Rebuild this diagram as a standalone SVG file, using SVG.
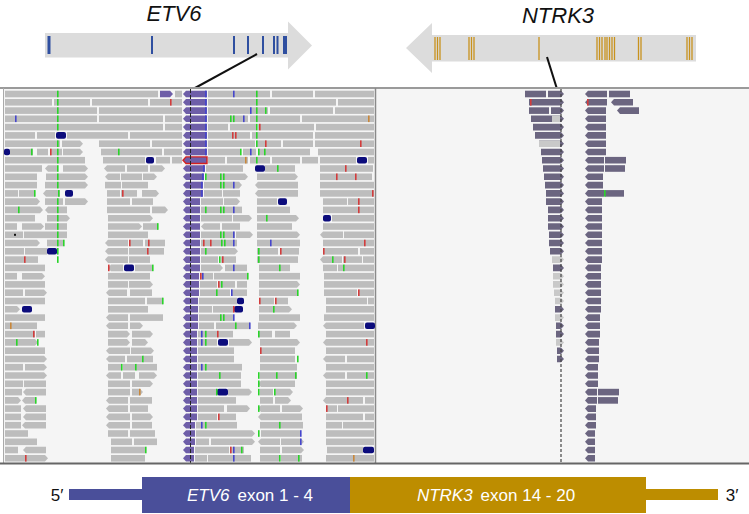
<svg xmlns="http://www.w3.org/2000/svg" width="749" height="514" viewBox="0 0 749 514">
<style>
.row rect,.row path{fill:#bdbdbd}
.row rect{height:6.6px}
.row .p{fill:#6e5ea8}
.row .n{fill:#0c0c7c}
.row .g,.row .rd,.row .b,.row .o{width:1.6px}
.row .g{fill:#2ad42a}
.row .rd{fill:#d23c3c}
.row .b{fill:#4646cc}
.row .o{fill:#c8873a}
.row .k{fill:#6b6580}
.row .l{fill:#c9c9c9}
.row .dot{fill:#111;height:2px;width:2px}
.gene{fill:#dcdcdc}
.ex1{stroke:#2f4fa0;stroke-width:2}
.ex2{stroke:#c8921e;stroke-width:1.3}
.lbl{font-family:"Liberation Sans",Arial,sans-serif;font-style:italic;font-size:22px;fill:#111}
.ft{font-family:"Liberation Sans",Arial,sans-serif;font-size:17px}
</style>
<defs>
<path id="pA" fill="#6e5ea8" d="M183 3.3L186 0H207V6.6H186Z"/>
</defs>
<rect width="749" height="514" fill="#fff"/>
<g id="etv6-gene">
<text class="lbl" x="174" y="20.5" text-anchor="middle">ETV6</text>
<path class="gene" d="M45 33H288V21.5L312 45.5L288 69.5V57.5H45Z"/>
<g class="ex1">
<path d="M49 36V54" stroke-width="3"/>
<path d="M152 36V54M234 36V54M248 36V54M263 36V54M274 36V54M277.5 36V54"/>
<path d="M285 36V54" stroke-width="4"/>
</g>
</g>
<g id="ntrk3-gene">
<text class="lbl" x="558" y="22.5" text-anchor="middle">NTRK3</text>
<path class="gene" d="M696 35H432V23L406 48L432 73V61.5H696Z"/>
<path class="ex2" d="M435 37V60M437.5 37V60M440 37V60M469 37V60M471.5 37V60M474 37V60M539 37V60M597 37V60M599.5 37V60M602 37V60M605 37V60M607 37V60M609.5 37V60M612 37V60M614.5 37V60M638.5 37V60M641 37V60M687 37V60M689.5 37V60M692 37V60"/>
</g>
<g id="connectors" stroke="#111" stroke-width="2">
<line x1="257" y1="54" x2="195" y2="88"/>
<line x1="547" y1="57" x2="557" y2="89"/>
</g>
<g id="alignment">
<rect x="4" y="89" width="371" height="374" fill="#f5f5f5"/>
<rect x="376" y="89" width="373" height="374" fill="#f5f5f5"/>
<line x1="0" y1="88" x2="749" y2="88" stroke="#9a9a9a" stroke-width="2"/>
<line x1="3.5" y1="88" x2="3.5" y2="463" stroke="#aaa" stroke-width="1"/>
<line x1="375.5" y1="88" x2="375.5" y2="463" stroke="#8a8a8a" stroke-width="1.5"/>

<g class="row" transform="translate(0,90.7)"><rect x="5" width="153"/><path class="p" d="M160 0H170L173 3.3L170 6.6H160Z"/><rect x="175" width="7"/><use href="#pA"/><rect class="b" x="205"/><rect x="208" width="62"/><rect x="272" width="41"/><rect x="315" width="59"/><rect class="g" x="57"/><rect class="b" x="233"/><rect class="g" x="256"/><rect class="k" x="525" width="21"/><path class="k" d="M548 0H561L564 3.3L561 6.6H548Z"/><path class="k" d="M585 3.3L588 0H607V6.6H588Z"/><rect class="k" x="609" width="21"/></g>
<g class="row" transform="translate(0,99)"><rect x="5" width="47"/><rect x="54" width="36"/><rect x="92" width="56"/><rect x="150" width="32"/><use href="#pA"/><rect class="b" x="205"/><rect x="208" width="128"/><rect x="338" width="36"/><rect class="g" x="57"/><rect class="rd" x="170"/><rect class="g" x="256"/><path class="k" d="M529 0H561L564 3.3L561 6.6H529Z"/><rect class="rd" x="530"/><path class="k" d="M585 3.3L588 0H607V6.6H588Z"/><rect class="rd" x="587"/><path class="k" d="M611 3.3L614 0H633V6.6H614Z"/></g>
<g class="row" transform="translate(0,107.3)"><rect x="5" width="92"/><rect x="99" width="83"/><use href="#pA"/><rect class="b" x="205"/><rect x="208" width="60"/><rect x="270" width="63"/><rect x="335" width="39"/><rect class="g" x="57"/><rect class="b" x="250"/><rect class="g" x="256"/><rect class="g" x="265"/><rect class="k" x="529" width="20"/><path class="k" d="M551 0H561L564 3.3L561 6.6H551Z"/><path class="k" d="M585 3.3L588 0H606V6.6H588Z"/><path class="k" d="M617 3.3L620 0H639V6.6H620Z"/></g>
<g class="row" transform="translate(0,115.5)"><rect x="5" width="92"/><rect x="99" width="64"/><rect x="165" width="17"/><use href="#pA"/><rect class="b" x="205"/><rect x="208" width="40"/><rect x="250" width="50"/><rect x="302" width="72"/><rect class="b" x="15"/><rect class="g" x="57"/><rect class="g" x="230"/><rect class="g" x="233"/><rect class="b" x="243"/><rect class="g" x="256"/><rect class="o" x="368"/><path class="k" d="M531 0H561L564 3.3L561 6.6H531Z"/><rect class="l" x="552" width="8"/><path class="k" d="M585 3.3L588 0H606V6.6H588Z"/></g>
<g class="row" transform="translate(0,123.8)"><rect x="5" width="158"/><rect x="165" width="17"/><use href="#pA"/><rect class="b" x="205"/><rect x="208" width="20"/><rect x="230" width="26"/><rect x="258" width="56"/><rect x="316" width="58"/><rect class="g" x="57"/><rect class="g" x="256"/><rect class="rd" x="259"/><path class="k" d="M533 0H561L564 3.3L561 6.6H533Z"/><path class="k" d="M585 3.3L588 0H606V6.6H588Z"/></g>
<g class="row" transform="translate(0,132.1)"><rect x="5" width="30"/><rect x="37" width="18"/><rect class="n" x="56" width="10" rx="2"/><rect x="67" width="61"/><rect x="130" width="52"/><use href="#pA"/><rect class="b" x="205"/><rect x="208" width="42"/><rect x="252" width="61"/><rect x="315" width="59"/><rect class="rd" x="232"/><rect class="rd" x="235"/><rect class="g" x="256"/><path class="k" d="M535 0H561L564 3.3L561 6.6H535Z"/><path class="k" d="M585 3.3L588 0H606V6.6H588Z"/></g>
<g class="row" transform="translate(0,140.4)"><rect x="5" width="55"/><path d="M62 0H80L83 3.3L80 6.6H62Z"/><rect x="99" width="51"/><rect x="152" width="30"/><use href="#pA"/><rect class="b" x="205"/><rect x="208" width="47"/><rect x="257" width="24"/><rect x="283" width="30"/><rect x="315" width="59"/><rect class="g" x="57"/><rect class="g" x="256"/><rect class="rd" x="265"/><rect class="rd" x="360"/><path class="k" d="M539 0H561L564 3.3L561 6.6H539Z"/><rect class="l" x="539" width="21"/><path class="k" d="M585 3.3L588 0H606V6.6H588Z"/></g>
<g class="row" transform="translate(0,148.7)"><rect class="n" x="4" width="6" rx="2"/><rect x="10" width="23"/><rect x="37" width="11"/><rect x="50" width="12"/><path d="M63 0H80L83 3.3L80 6.6H63Z"/><rect x="101" width="61"/><rect x="164" width="18"/><use href="#pA"/><rect class="b" x="205"/><rect x="208" width="32"/><rect x="243" width="13"/><rect x="258" width="52"/><rect x="318" width="56"/><rect class="g" x="31"/><rect class="rd" x="50"/><rect class="g" x="57"/><rect class="g" x="118"/><rect class="g" x="240"/><rect class="b" x="250"/><rect class="g" x="258"/><rect class="g" x="264"/><path class="k" d="M541 0H561L564 3.3L561 6.6H541Z"/><path class="k" d="M585 3.3L588 0H606V6.6H588Z"/></g>
<g class="row" transform="translate(0,156.9)"><rect x="5" width="80"/><rect x="103" width="42"/><rect class="n" x="146" width="8" rx="2"/><rect x="156" width="14"/><rect x="172" width="10"/><path class="p" d="M183 3.3L186 0H207V6.6H186Z" style="stroke:#d42020;stroke-width:1.4"/><rect x="208" width="17"/><rect x="227" width="21"/><rect x="250" width="20"/><rect x="272" width="28"/><rect x="302" width="16"/><rect x="320" width="36"/><rect class="n" x="357" width="10" rx="2"/><rect x="368" width="6"/><rect class="g" x="57"/><rect class="o" x="245"/><rect class="g" x="256"/><path class="k" d="M542 0H561L564 3.3L561 6.6H542Z"/><path class="k" d="M585 3.3L588 0H604V6.6H588Z"/><rect class="k" x="605" width="21"/></g>
<g class="row" transform="translate(0,165.2)"><rect x="5" width="37"/><path d="M45 3.3L48 0H57V6.6H48Z"/><path d="M63 0H85L88 3.3L85 6.6H63Z"/><path d="M104 3.3L107 0H125V6.6H107Z"/><rect x="127" width="21"/><path d="M150 0H162L165 3.3L162 6.6H150Z"/><path class="p" d="M183 3.3L186 0H205V6.6H186Z"/><rect class="b" x="203"/><rect x="206" width="37"/><rect class="n" x="255" width="10" rx="2"/><rect x="265" width="30"/><rect x="320" width="53"/><rect class="g" x="57"/><rect class="g" x="277"/><rect class="rd" x="345"/><path class="k" d="M543 0H561L564 3.3L561 6.6H543Z"/><path class="k" d="M585 3.3L588 0H604V6.6H588Z"/><rect class="k" x="605" width="20"/></g>
<g class="row" transform="translate(0,173.5)"><rect x="5" width="32"/><rect x="46" width="14"/><path d="M60 0H85L88 3.3L85 6.6H60Z"/><path d="M105 3.3L108 0H120V6.6H108Z"/><rect x="121" width="21"/><path d="M143 0H154L157 3.3L154 6.6H143Z"/><path class="p" d="M183 3.3L186 0H204V6.6H186Z"/><rect class="b" x="202"/><rect x="205" width="20"/><path d="M225 0H245L248 3.3L245 6.6H225Z"/><path d="M257 0H295L298 3.3L295 6.6H257Z"/><rect x="320" width="52"/><rect class="g" x="57"/><rect class="g" x="205"/><rect class="g" x="220"/><rect class="g" x="223"/><rect class="rd" x="336"/><rect class="rd" x="355"/><path class="k" d="M544 0H561L564 3.3L561 6.6H544Z"/><path class="k" d="M585 3.3L588 0H603V6.6H588Z"/></g>
<g class="row" transform="translate(0,181.8)"><rect x="5" width="32"/><rect x="45" width="15"/><path d="M60 0H85L88 3.3L85 6.6H60Z"/><rect x="105" width="16"/><rect x="122" width="26"/><path class="p" d="M183 3.3L186 0H203V6.6H186Z"/><rect class="b" x="201"/><rect x="204" width="19"/><path d="M223 0H239L242 3.3L239 6.6H223Z"/><path d="M255 3.3L258 0H298V6.6H258Z"/><rect x="320" width="54"/><rect class="g" x="57"/><rect class="g" x="220"/><rect class="g" x="223"/><rect class="b" x="233"/><path class="k" d="M545 0H561L564 3.3L561 6.6H545Z"/><path class="k" d="M585 3.3L588 0H603V6.6H588Z"/></g>
<g class="row" transform="translate(0,190.1)"><rect x="5" width="13"/><rect x="19" width="16"/><path d="M43 3.3L46 0H60V6.6H46Z"/><rect class="n" x="65" width="8" rx="2"/><rect x="107" width="13"/><rect x="121" width="16"/><path d="M142 0H156L159 3.3L156 6.6H142Z"/><path class="p" d="M183 3.3L186 0H203V6.6H186Z"/><rect class="b" x="201"/><rect x="204" width="18"/><rect x="223" width="17"/><path d="M255 3.3L258 0H298V6.6H258Z"/><rect x="320" width="54"/><rect class="g" x="34"/><rect class="g" x="58"/><rect class="rd" x="122"/><rect class="rd" x="372"/><path class="k" d="M546 0H561L564 3.3L561 6.6H546Z"/><path class="k" d="M585 3.3L588 0H604V6.6H588Z"/><rect class="k" x="605" width="19"/><rect class="g" x="604"/></g>
<g class="row" transform="translate(0,198.3)"><path d="M5 0H37L40 3.3L37 6.6H5Z"/><rect x="45" width="18"/><path d="M65 0H85L88 3.3L85 6.6H65Z"/><rect x="107" width="23"/><rect x="132" width="21"/><path class="p" d="M183 3.3L186 0H200V6.6H186Z"/><rect x="201" width="22"/><path d="M224 0H237L240 3.3L237 6.6H224Z"/><rect x="257" width="20"/><rect class="n" x="278" width="9" rx="2"/><rect x="323" width="24"/><rect x="348" width="26"/><rect class="g" x="57"/><rect class="rd" x="358"/><path class="k" d="M546 0H561L564 3.3L561 6.6H546Z"/><path class="k" d="M585 3.3L588 0H602V6.6H588Z"/></g>
<g class="row" transform="translate(0,206.6)"><path d="M5 0H40L43 3.3L40 6.6H5Z"/><path d="M45 3.3L48 0H67V6.6H48Z"/><rect x="107" width="43"/><path d="M152 0H165L168 3.3L165 6.6H152Z"/><path class="p" d="M183 3.3L186 0H200V6.6H186Z"/><rect x="201" width="41"/><rect x="257" width="33"/><rect x="323" width="51"/><rect class="g" x="18"/><rect class="g" x="57"/><rect class="g" x="205"/><rect class="g" x="220"/><rect class="g" x="223"/><rect class="b" x="233"/><rect class="rd" x="358"/><path class="k" d="M548 0H561L564 3.3L561 6.6H548Z"/><path class="k" d="M585 3.3L588 0H602V6.6H588Z"/></g>
<g class="row" transform="translate(0,214.9)"><rect x="5" width="30"/><path d="M47 0H67L70 3.3L67 6.6H47Z"/><path d="M108 0H150L153 3.3L150 6.6H108Z"/><path class="p" d="M183 3.3L186 0H200V6.6H186Z"/><rect x="201" width="31"/><path d="M233 0H249L252 3.3L249 6.6H233Z"/><path d="M257 0H296L299 3.3L296 6.6H257Z"/><rect class="n" x="323" width="8" rx="2"/><rect x="332" width="42"/><rect class="g" x="57"/><rect class="g" x="266"/><path class="k" d="M548 0H561L564 3.3L561 6.6H548Z"/><path class="k" d="M585 3.3L588 0H602V6.6H588Z"/></g>
<g class="row" transform="translate(0,223.2)"><rect x="5" width="12"/><path d="M22 0H41L44 3.3L41 6.6H22Z"/><rect x="45" width="22"/><path d="M108 0H139L142 3.3L139 6.6H108Z"/><rect x="143" width="15"/><path class="p" d="M183 3.3L186 0H200V6.6H186Z"/><path d="M201 3.3L204 0H220V6.6H204Z"/><rect x="222" width="18"/><rect x="257" width="35"/><rect x="323" width="51"/><rect class="g" x="57"/><rect class="g" x="157"/><path class="k" d="M548 0H561L564 3.3L561 6.6H548Z"/><path class="k" d="M585 3.3L588 0H602V6.6H588Z"/></g>
<g class="row" transform="translate(0,231.5)"><rect x="5" width="18"/><rect x="24" width="43"/><rect x="108" width="40"/><path class="p" d="M183 3.3L186 0H200V6.6H186Z"/><rect x="201" width="34"/><path d="M236 0H250L253 3.3L250 6.6H236Z"/><path d="M257 0H297L300 3.3L297 6.6H257Z"/><path d="M320 3.3L323 0H343V6.6H323Z"/><rect x="344" width="30"/><rect class="dot" x="14" y="2.3"/><rect class="g" x="57"/><rect class="g" x="220"/><rect class="g" x="223"/><rect class="b" x="233"/><path class="k" d="M549 0H561L564 3.3L561 6.6H549Z"/><path class="k" d="M585 3.3L588 0H602V6.6H588Z"/></g>
<g class="row" transform="translate(0,239.7)"><path d="M5 0H37L40 3.3L37 6.6H5Z"/><rect x="47" width="16"/><path d="M105 3.3L108 0H128V6.6H108Z"/><rect x="130" width="13"/><rect x="145" width="20"/><path class="p" d="M183 3.3L186 0H200V6.6H186Z"/><rect x="201" width="36"/><rect x="257" width="43"/><rect x="323" width="51"/><rect class="g" x="57"/><rect class="g" x="63"/><rect class="rd" x="129"/><rect class="rd" x="148"/><rect class="rd" x="203"/><rect class="rd" x="210"/><rect class="g" x="221"/><rect class="g" x="224"/><rect class="b" x="233"/><rect class="b" x="270"/><rect class="rd" x="364"/><path class="k" d="M549 0H561L564 3.3L561 6.6H549Z"/><path class="k" d="M585 3.3L588 0H602V6.6H588Z"/></g>
<g class="row" transform="translate(0,248)"><rect x="5" width="19"/><rect x="25" width="22"/><rect class="n" x="47" width="10" rx="2"/><path d="M105 3.3L108 0H128V6.6H108Z"/><rect x="129" width="18"/><rect x="148" width="16"/><path class="p" d="M183 3.3L186 0H200V6.6H186Z"/><path d="M201 0H235L238 3.3L235 6.6H201Z"/><rect x="257" width="21"/><rect x="280" width="19"/><rect x="323" width="35"/><rect x="360" width="14"/><rect class="g" x="57"/><rect class="rd" x="147"/><rect class="g" x="205"/><rect class="g" x="258"/><rect class="rd" x="280"/><rect class="rd" x="323"/><path class="k" d="M550 0H561L564 3.3L561 6.6H550Z"/><path class="k" d="M585 3.3L588 0H602V6.6H588Z"/></g>
<g class="row" transform="translate(0,256.3)"><rect x="5" width="19"/><rect x="25" width="13"/><path d="M105 3.3L108 0H128V6.6H108Z"/><rect x="129" width="21"/><path class="p" d="M183 3.3L186 0H200V6.6H186Z"/><rect x="201" width="17"/><rect x="221" width="15"/><rect x="257" width="41"/><path d="M320 3.3L323 0H342V6.6H323Z"/><rect x="343" width="19"/><rect x="363" width="11"/><rect class="rd" x="24"/><rect class="g" x="57"/><rect class="g" x="219"/><rect class="rd" x="222"/><rect class="g" x="258"/><rect class="g" x="332"/><rect class="rd" x="344"/><path class="l" d="M552 0H561L564 3.3L561 6.6H552Z"/><path class="k" d="M585 3.3L588 0H602V6.6H588Z"/></g>
<g class="row" transform="translate(0,264.6)"><rect x="5" width="40"/><path d="M108 3.3L111 0H123V6.6H111Z"/><rect class="n" x="124" width="10" rx="2"/><rect x="135" width="17"/><path class="p" d="M183 3.3L186 0H200V6.6H186Z"/><path d="M201 0H220L223 3.3L220 6.6H201Z"/><rect x="225" width="22"/><rect x="259" width="31"/><rect x="323" width="14"/><rect x="338" width="36"/><rect class="rd" x="108"/><rect class="g" x="152"/><rect class="b" x="233"/><rect class="g" x="279"/><rect class="g" x="343"/><path class="k" d="M553 0H561L564 3.3L561 6.6H553Z"/><path class="k" d="M585 3.3L588 0H601V6.6H588Z"/></g>
<g class="row" transform="translate(0,272.9)"><rect x="5" width="12"/><path d="M22 0H42L45 3.3L42 6.6H22Z"/><rect x="108" width="42"/><path class="p" d="M183 3.3L186 0H199V6.6H186Z"/><rect x="200" width="13"/><rect x="214" width="34"/><rect x="259" width="41"/><rect x="324" width="50"/><rect class="rd" x="200"/><rect class="b" x="202"/><rect class="g" x="247"/><path class="l" d="M553 0H561L564 3.3L561 6.6H553Z"/><path class="k" d="M585 3.3L588 0H601V6.6H588Z"/></g>
<g class="row" transform="translate(0,281.1)"><rect x="5" width="40"/><rect x="108" width="20"/><path d="M129 0H150L153 3.3L150 6.6H129Z"/><path class="p" d="M183 3.3L186 0H199V6.6H186Z"/><rect x="200" width="17"/><rect x="219" width="16"/><rect x="237" width="10"/><path d="M259 0H297L300 3.3L297 6.6H259Z"/><rect x="324" width="50"/><rect class="rd" x="218"/><rect class="g" x="221"/><path class="l" d="M553 0H561L564 3.3L561 6.6H553Z"/><path class="k" d="M585 3.3L588 0H601V6.6H588Z"/></g>
<g class="row" transform="translate(0,289.4)"><rect x="5" width="18"/><path d="M25 0H44L47 3.3L44 6.6H25Z"/><path d="M106 3.3L109 0H127V6.6H109Z"/><rect x="130" width="22"/><path class="p" d="M183 3.3L186 0H199V6.6H186Z"/><rect x="200" width="30"/><rect x="231" width="16"/><rect x="259" width="38"/><rect x="324" width="33"/><rect x="359" width="15"/><rect class="g" x="216"/><rect class="b" x="231"/><rect class="g" x="297"/><rect class="rd" x="358"/><path class="l" d="M554 0H561L564 3.3L561 6.6H554Z"/><path class="k" d="M585 3.3L588 0H601V6.6H588Z"/></g>
<g class="row" transform="translate(0,297.7)"><rect x="5" width="40"/><rect x="108" width="37"/><rect x="147" width="16"/><path class="p" d="M183 3.3L186 0H198V6.6H186Z"/><rect x="199" width="38"/><rect class="n" x="237" width="7" rx="2"/><rect x="260" width="14"/><rect x="276" width="12"/><rect x="326" width="41"/><rect x="368" width="6"/><rect class="g" x="162"/><rect class="rd" x="259"/><rect class="rd" x="275"/><path class="l" d="M555 0H561L564 3.3L561 6.6H555Z"/><path class="k" d="M585 3.3L588 0H601V6.6H588Z"/></g>
<g class="row" transform="translate(0,306)"><path d="M5 0H17L20 3.3L17 6.6H5Z"/><rect class="n" x="22" width="10" rx="2"/><rect x="108" width="40"/><path class="p" d="M183 3.3L186 0H198V6.6H186Z"/><rect x="199" width="13"/><rect x="213" width="20"/><rect class="n" x="234" width="9" rx="2"/><path d="M259 0H289L292 3.3L289 6.6H259Z"/><rect x="326" width="48"/><rect class="rd" x="233"/><rect class="g" x="273"/><path class="k" d="M555 0H561L564 3.3L561 6.6H555Z"/><path class="k" d="M585 3.3L588 0H601V6.6H588Z"/></g>
<g class="row" transform="translate(0,314.3)"><rect x="5" width="40"/><path d="M106 3.3L109 0H128V6.6H109Z"/><rect x="130" width="33"/><path class="p" d="M183 3.3L186 0H198V6.6H186Z"/><rect x="199" width="34"/><rect x="259" width="41"/><rect x="324" width="50"/><rect class="g" x="220"/><rect class="g" x="223"/><rect class="b" x="233"/><path class="l" d="M555 0H561L564 3.3L561 6.6H555Z"/><path class="k" d="M585 3.3L588 0H600V6.6H588Z"/></g>
<g class="row" transform="translate(0,322.5)"><rect x="5" width="32"/><path d="M106 3.3L109 0H128V6.6H109Z"/><path d="M130 0H140L143 3.3L140 6.6H130Z"/><path class="p" d="M183 3.3L186 0H198V6.6H186Z"/><rect x="199" width="15"/><rect x="216" width="34"/><path d="M258 0H294L297 3.3L294 6.6H258Z"/><path d="M323 3.3L326 0H364V6.6H326Z"/><rect class="n" x="365" width="10" rx="2"/><rect class="o" x="10"/><rect class="g" x="235"/><rect class="b" x="249"/><path class="k" d="M556 0H561L564 3.3L561 6.6H556Z"/><path class="k" d="M585 3.3L588 0H600V6.6H588Z"/></g>
<g class="row" transform="translate(0,330.8)"><rect x="5" width="30"/><rect x="36" width="9"/><path d="M108 0H127L130 3.3L127 6.6H108Z"/><path d="M132 0H150L153 3.3L150 6.6H132Z"/><path class="p" d="M183 3.3L186 0H197V6.6H186Z"/><rect x="198" width="35"/><rect x="258" width="14"/><rect x="275" width="15"/><rect x="326" width="48"/><rect class="rd" x="33"/><rect class="b" x="201"/><rect class="g" x="205"/><rect class="rd" x="217"/><rect class="g" x="258"/><path class="k" d="M556 0H561L564 3.3L561 6.6H556Z"/><path class="k" d="M585 3.3L588 0H600V6.6H588Z"/></g>
<g class="row" transform="translate(0,339.1)"><path d="M5 0H35L38 3.3L35 6.6H5Z"/><path d="M108 0H127L130 3.3L127 6.6H108Z"/><path d="M132 0H145L148 3.3L145 6.6H132Z"/><path class="p" d="M183 3.3L186 0H197V6.6H186Z"/><rect x="198" width="19"/><rect class="n" x="218" width="10" rx="2"/><path d="M229 0H249L252 3.3L249 6.6H229Z"/><path d="M260 0H297L300 3.3L297 6.6H260Z"/><path d="M323 3.3L326 0H374V6.6H326Z"/><rect class="g" x="16"/><rect class="g" x="37"/><rect class="b" x="201"/><rect class="g" x="205"/><rect class="rd" x="366"/><path class="l" d="M556 0H561L564 3.3L561 6.6H556Z"/><path class="k" d="M585 3.3L588 0H599V6.6H588Z"/></g>
<g class="row" transform="translate(0,347.4)"><rect x="5" width="40"/><path d="M106 3.3L109 0H130V6.6H109Z"/><path d="M131 0H151L154 3.3L151 6.6H131Z"/><path class="p" d="M183 3.3L186 0H197V6.6H186Z"/><rect x="198" width="36"/><rect x="260" width="35"/><rect x="326" width="48"/><rect class="rd" x="260"/><path class="k" d="M557 0H561L564 3.3L561 6.6H557Z"/><path class="k" d="M585 3.3L588 0H599V6.6H588Z"/></g>
<g class="row" transform="translate(0,355.7)"><path d="M5 0H44L47 3.3L44 6.6H5Z"/><path d="M106 3.3L109 0H125V6.6H109Z"/><rect x="127" width="15"/><rect x="143" width="10"/><path class="p" d="M183 3.3L186 0H197V6.6H186Z"/><rect x="198" width="36"/><rect x="260" width="35"/><path d="M323 3.3L326 0H345V6.6H326Z"/><rect x="347" width="27"/><rect class="g" x="142"/><rect class="g" x="297"/><path class="k" d="M557 0H561L564 3.3L561 6.6H557Z"/><path class="k" d="M585 3.3L588 0H599V6.6H588Z"/></g>
<g class="row" transform="translate(0,363.9)"><rect x="5" width="18"/><path d="M25 0H44L47 3.3L44 6.6H25Z"/><rect x="108" width="14"/><rect x="123" width="12"/><rect x="136" width="21"/><path class="p" d="M183 3.3L186 0H197V6.6H186Z"/><rect x="198" width="44"/><rect x="260" width="37"/><rect x="326" width="48"/><rect class="g" x="121"/><rect class="g" x="135"/><rect class="b" x="201"/><rect class="g" x="205"/><path class="k" d="M585 3.3L588 0H598V6.6H588Z"/></g>
<g class="row" transform="translate(0,372.2)"><path d="M5 0H44L47 3.3L44 6.6H5Z"/><path d="M106 3.3L109 0H121V6.6H109Z"/><rect x="123" width="12"/><path d="M139 0H154L157 3.3L154 6.6H139Z"/><path class="p" d="M183 3.3L186 0H197V6.6H186Z"/><rect x="198" width="43"/><rect x="260" width="16"/><rect x="277" width="20"/><path d="M323 3.3L326 0H345V6.6H326Z"/><rect x="347" width="27"/><rect class="g" x="219"/><rect class="g" x="258"/><rect class="g" x="276"/><rect class="g" x="295"/><rect class="g" x="366"/><path class="k" d="M585 3.3L588 0H598V6.6H588Z"/></g>
<g class="row" transform="translate(0,380.5)"><rect x="5" width="18"/><rect x="24" width="22"/><rect x="108" width="22"/><path d="M132 0H150L153 3.3L150 6.6H132Z"/><path class="p" d="M183 3.3L186 0H197V6.6H186Z"/><rect x="198" width="43"/><path d="M258 3.3L261 0H295V6.6H261Z"/><rect x="326" width="48"/><rect class="g" x="258"/><path class="k" d="M585 3.3L588 0H598V6.6H588Z"/></g>
<g class="row" transform="translate(0,388.8)"><rect x="5" width="17"/><path d="M23 3.3L26 0H46V6.6H26Z"/><rect x="108" width="22"/><path d="M132 0H140L143 3.3L140 6.6H132Z"/><path class="p" d="M183 3.3L186 0H197V6.6H186Z"/><rect x="198" width="19"/><rect class="n" x="217" width="11" rx="2"/><path d="M228 0H249L252 3.3L249 6.6H228Z"/><rect x="260" width="13"/><path d="M275 0H290L293 3.3L290 6.6H275Z"/><rect x="326" width="48"/><rect class="o" x="139"/><rect class="g" x="216"/><rect class="g" x="258"/><rect class="g" x="274"/><path class="k" d="M585 3.3L588 0H597V6.6H588Z"/><rect class="k" x="598" width="21"/></g>
<g class="row" transform="translate(0,397.1)"><path d="M5 0H18L21 3.3L18 6.6H5Z"/><path d="M22 3.3L25 0H36V6.6H25Z"/><path d="M106 3.3L109 0H128V6.6H109Z"/><rect x="130" width="22"/><path class="p" d="M183 3.3L186 0H197V6.6H186Z"/><rect x="198" width="38"/><rect x="260" width="13"/><path d="M275 0H288L291 3.3L288 6.6H275Z"/><path d="M323 3.3L326 0H363V6.6H326Z"/><rect x="365" width="9"/><rect class="g" x="35"/><rect class="rd" x="347"/><path class="k" d="M585 3.3L588 0H597V6.6H588Z"/><rect class="k" x="598" width="20"/></g>
<g class="row" transform="translate(0,405.3)"><rect x="5" width="16"/><path d="M23 3.3L26 0H46V6.6H26Z"/><path d="M106 3.3L109 0H128V6.6H109Z"/><rect x="130" width="18"/><path class="p" d="M183 3.3L186 0H197V6.6H186Z"/><rect x="198" width="26"/><path d="M227 0H247L250 3.3L247 6.6H227Z"/><path d="M258 3.3L261 0H280V6.6H261Z"/><path d="M282 0H300L303 3.3L300 6.6H282Z"/><rect x="326" width="11"/><rect x="338" width="36"/><rect class="g" x="258"/><rect class="rd" x="326"/><path class="k" d="M585 3.3L588 0H596V6.6H588Z"/></g>
<g class="row" transform="translate(0,413.6)"><rect x="5" width="16"/><path d="M23 3.3L26 0H46V6.6H26Z"/><path d="M106 3.3L109 0H130V6.6H109Z"/><path d="M132 0H150L153 3.3L150 6.6H132Z"/><path class="p" d="M183 3.3L186 0H197V6.6H186Z"/><rect x="198" width="19"/><rect x="219" width="17"/><path d="M258 3.3L261 0H302V6.6H261Z"/><rect x="326" width="37"/><rect x="365" width="9"/><rect class="rd" x="218"/><path class="k" d="M585 3.3L588 0H596V6.6H588Z"/></g>
<g class="row" transform="translate(0,421.9)"><rect x="5" width="16"/><path d="M22 3.3L25 0H46V6.6H25Z"/><path d="M106 3.3L109 0H130V6.6H109Z"/><rect x="132" width="20"/><path class="p" d="M183 3.3L186 0H195V6.6H186Z"/><rect x="196" width="41"/><rect x="260" width="43"/><rect x="326" width="16"/><rect x="343" width="31"/><rect class="b" x="201"/><rect class="g" x="205"/><rect class="g" x="279"/><path class="k" d="M585 3.3L588 0H596V6.6H588Z"/></g>
<g class="row" transform="translate(0,430.2)"><rect x="5" width="23"/><rect x="108" width="20"/><rect x="130" width="25"/><path class="p" d="M183 3.3L186 0H195V6.6H186Z"/><path d="M196 0H252L255 3.3L252 6.6H196Z"/><rect x="261" width="39"/><rect x="326" width="48"/><rect class="g" x="258"/><rect class="b" x="300"/><path class="k" d="M585 3.3L588 0H595V6.6H588Z"/></g>
<g class="row" transform="translate(0,438.5)"><rect x="5" width="32"/><rect x="111" width="21"/><rect x="134" width="23"/><path class="p" d="M183 3.3L186 0H195V6.6H186Z"/><rect x="196" width="13"/><path d="M211 0H252L255 3.3L252 6.6H211Z"/><path d="M258 3.3L261 0H280V6.6H261Z"/><path d="M281 0H301L304 3.3L301 6.6H281Z"/><rect x="326" width="48"/><rect class="b" x="300"/><path class="k" d="M585 3.3L588 0H595V6.6H588Z"/></g>
<g class="row" transform="translate(0,446.7)"><rect x="5" width="13"/><path d="M23 3.3L26 0H46V6.6H26Z"/><rect x="111" width="34"/><path class="p" d="M183 3.3L186 0H194V6.6H186Z"/><rect x="195" width="34"/><rect x="230" width="14"/><rect x="260" width="20"/><path d="M282 0H301L304 3.3L301 6.6H282Z"/><rect x="327" width="36"/><rect class="n" x="363" width="11" rx="2"/><rect class="g" x="145"/><rect class="rd" x="230"/><rect class="b" x="233"/><rect class="g" x="241"/><path class="k" d="M585 3.3L588 0H595V6.6H588Z"/></g>
<g class="row" transform="translate(0,455)"><path d="M5 0H45L48 3.3L45 6.6H5Z"/><rect x="111" width="34"/><path class="p" d="M183 3.3L186 0H194V6.6H186Z"/><rect x="195" width="12"/><rect x="208" width="43"/><rect x="260" width="19"/><rect x="281" width="21"/><rect x="326" width="48"/><rect class="rd" x="25"/><rect class="b" x="233"/><rect class="g" x="279"/><rect class="g" x="298"/><rect class="o" x="353"/><path class="k" d="M585 3.3L588 0H595V6.6H588Z"/></g>

<line x1="190.5" y1="89" x2="190.5" y2="463" stroke="#222" stroke-width="1" stroke-dasharray="4 2"/>
<line x1="561" y1="89" x2="561" y2="463" stroke="#444" stroke-width="1.2" stroke-dasharray="3 2"/>
<line x1="0" y1="463.5" x2="749" y2="463.5" stroke="#666" stroke-width="2"/>
</g>
<g id="fusion">
<rect x="69" y="489" width="74" height="11" fill="#4a4f9a"/>
<rect x="142" y="477" width="209" height="36" fill="#4a4f9a"/>
<rect x="350" y="477" width="296" height="36" fill="#bd8d00"/>
<rect x="645" y="489" width="73" height="11" fill="#bd8d00"/>
<text class="ft" x="57" y="501" text-anchor="middle" fill="#111">5′</text>
<text class="ft" x="732" y="501" text-anchor="middle" fill="#111">3′</text>
<text class="ft" x="250" y="501" text-anchor="middle" fill="#fff"><tspan font-style="italic">ETV6</tspan><tspan dx="8">exon 1 - 4</tspan></text>
<text class="ft" x="496" y="501" text-anchor="middle" fill="#fff"><tspan font-style="italic">NTRK3</tspan><tspan dx="8">exon 14 - 20</tspan></text>
</g>
</svg>
